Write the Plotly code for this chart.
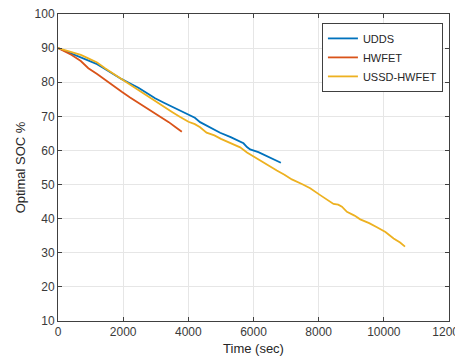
import plotly.graph_objects as go

# UDDS
udds_t = [0, 300, 600, 931, 1200, 1443, 1700, 1956, 2200, 2467, 2700, 2979, 3250, 3500, 3750,
          4003, 4200, 4361, 4650, 4976, 5300, 5693, 5800, 5897, 6150, 6400, 6620, 6840]
udds_soc = [90.0, 88.8, 87.7, 86.5, 85.3, 83.9, 82.3, 80.9, 79.7, 78.4, 77.0, 75.3, 74.0, 72.9, 71.8,
            70.7, 69.6, 68.3, 66.8, 65.2, 63.9, 62.1, 61.0, 60.3, 59.5, 58.4, 57.4, 56.4]

# HWFET
hw_t = [0, 200, 420, 700, 931, 1200, 1450, 1700, 1956, 2200, 2467, 2700, 2979, 3200, 3400, 3600, 3800]
hw_soc = [90.0, 89.0, 88.0, 86.2, 84.1, 82.4, 80.6, 79.0, 77.2, 75.6, 74.0, 72.5, 70.9, 69.5, 68.3, 66.9, 65.5]

# USSD-HWFET
us_t = [0, 400, 700, 931, 1200, 1443, 1700, 1956, 2200, 2467, 2700, 2979, 3250, 3500, 3750,
        4003, 4200, 4361, 4560, 4800, 5000, 5300, 5590, 5800, 6000, 6350, 6716,
        6950, 7177, 7500, 7740, 8047, 8300, 8456, 8600, 8714, 8867, 9100, 9276, 9550, 9788,
        10050, 10300, 10500, 10650]
us_soc = [90.0, 88.8, 88.0, 87.0, 85.8, 84.1, 82.5, 80.8, 79.4, 77.7, 76.1, 74.3, 72.8, 71.3, 69.8,
          68.4, 67.7, 66.8, 65.2, 64.4, 63.4, 62.2, 60.9, 59.4, 58.2, 56.3, 54.1,
          52.9, 51.5, 50.1, 48.9, 46.9, 45.4, 44.3, 44.1, 43.5, 42.0, 40.9, 39.8, 38.7, 37.5,
          36.1, 34.2, 33.0, 31.8]

x_ticks = [0, 2000, 4000, 6000, 8000, 10000, 12000]
y_ticks = [10, 20, 30, 40, 50, 60, 70, 80, 90, 100]

fig = go.Figure()
fig.add_trace(go.Scatter(x=udds_t, y=udds_soc, mode="lines", name="UDDS",
                         line=dict(color="#0072BD", width=1.8)))
fig.add_trace(go.Scatter(x=hw_t, y=hw_soc, mode="lines", name="HWFET",
                         line=dict(color="#D95319", width=1.8)))
fig.add_trace(go.Scatter(x=us_t, y=us_soc, mode="lines", name="USSD-HWFET",
                         line=dict(color="#EDB120", width=1.8)))

axis_common = dict(showline=True, linecolor="#404040", linewidth=1, mirror="ticks",
                   ticks="inside", ticklen=4, tickcolor="#404040", automargin=False,
                   ticklabeloverflow="allow",
                   showgrid=True, gridcolor="#e6e6e6", gridwidth=1, zeroline=False,
                   tickfont=dict(family="Liberation Sans, Arial", size=12, color="#3a3a3a"))

fig.update_xaxes(range=[0, 12000], tickvals=x_ticks, ticktext=[str(v) for v in x_ticks],
                 title=dict(text="Time (sec)", font=dict(family="Liberation Sans, Arial", size=13, color="#262626"),
                            standoff=5),
                 **axis_common)
fig.update_yaxes(range=[10, 100], tickvals=y_ticks, ticktext=[str(v) for v in y_ticks],
                 title=dict(text="Optimal SOC %", font=dict(family="Liberation Sans, Arial", size=13, color="#262626"),
                            standoff=6),
                 **axis_common)

fig.update_layout(
    width=455, height=350,
    margin=dict(l=50, r=14, t=6, b=37),
    paper_bgcolor="white", plot_bgcolor="white",
    font=dict(family="Liberation Sans, Arial", size=11, color="#262626"),
    legend=dict(x=0.675, y=0.971, xanchor="left", yanchor="top",
                bgcolor="white", bordercolor="#404040", borderwidth=1,
                font=dict(size=11), tracegroupgap=0, itemwidth=30),
    showlegend=True,
)

fig.write_html("out.html")
